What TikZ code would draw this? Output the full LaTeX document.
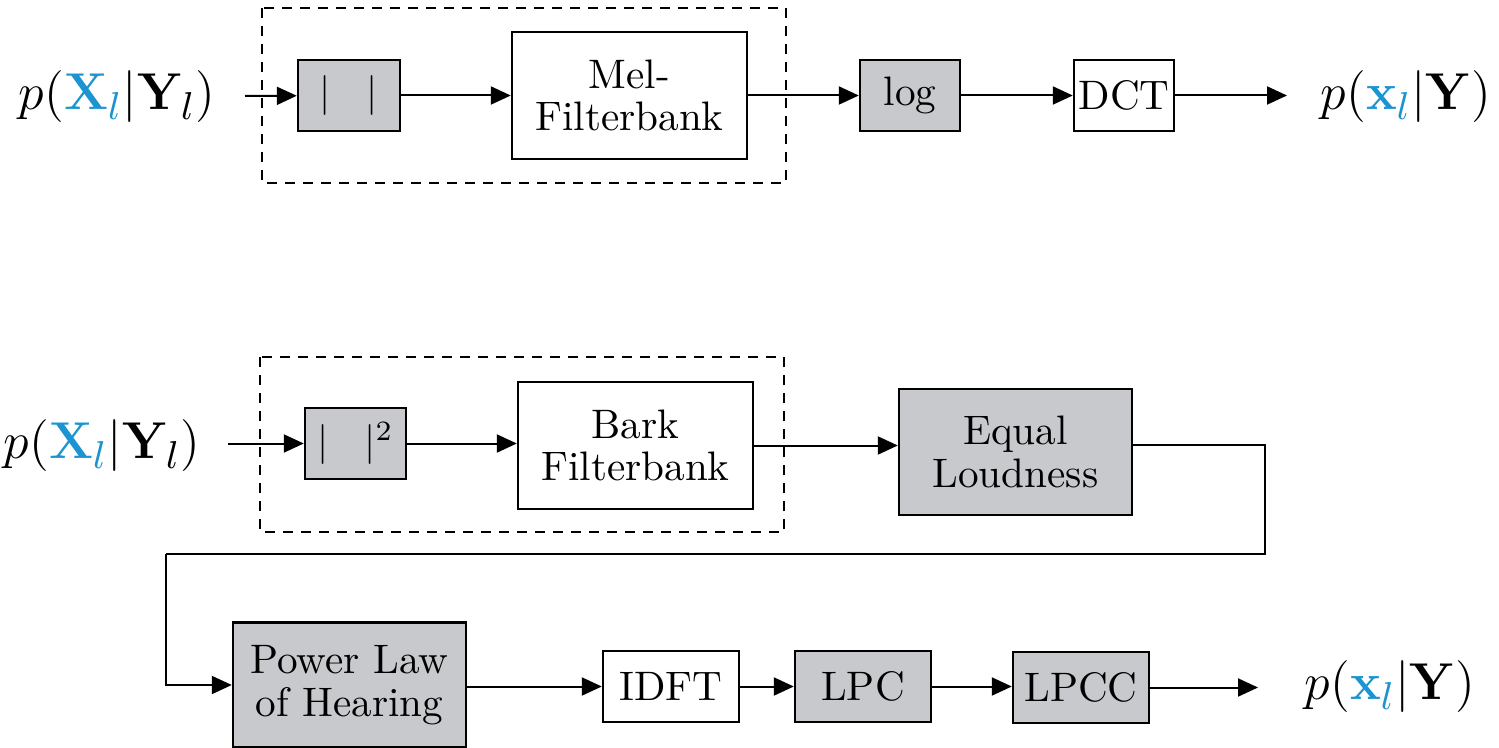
\documentclass[tikz,border=0pt]{standalone}
\usepackage{graphicx}
\usetikzlibrary{arrows.meta}
\definecolor{boxgray}{RGB}{199,201,205}
\definecolor{lblue}{RGB}{27,148,209}
\newcommand{\lblscale}[1]{\scalebox{1.08}{#1}}
\begin{document}
\begin{tikzpicture}[x=0.25pt,y=-0.25pt,
  box/.style={draw, line width=0.6pt, inner sep=0pt, align=center,
    font=\fontsize{10.3}{10.6}\selectfont},
  gbox/.style={box, fill=boxgray},
  wbox/.style={box, fill=white},
  conn/.style={-{Triangle[length=5pt,width=4.5pt]}, line width=0.5pt},
  dbox/.style={line width=0.5pt, dash pattern=on 2.5pt off 2pt},
  lbl/.style={inner sep=0pt, font=\fontsize{12.9}{15}\selectfont}
]
\useasboundingbox (0,0) rectangle (1499,748);
% ---------- top row ----------
\draw[dbox] (262,8) rectangle (786,183);
\node[lbl, anchor=west] (in1) at (18,97) {\lblscale{$p(\textcolor{lblue}{\mathbf{X}_l}|\mathbf{Y}_l)$}};
\coordinate (s1) at (245,96);
\node[gbox, minimum width=25.5pt, minimum height=17.75pt] (abs1) at (349,95.5) {$|\hspace{9pt}|$};
\node[wbox, minimum width=58.75pt, minimum height=31.75pt] (mel) at (629.5,95.5) {Mel-\\Filterbank};
\node[gbox, minimum width=25pt, minimum height=17.75pt] (log) at (910,95.5) {log};
\node[wbox, minimum width=25pt, minimum height=17.75pt] (dct) at (1124,95.5) {DCT};
\node[lbl, anchor=east] (out1) at (1492,97) {\lblscale{$p(\textcolor{lblue}{\mathbf{x}_l}|\mathbf{Y})$}};
\coordinate (e1) at (1287,95.5);
\draw[conn] (s1) -- (abs1);
\draw[conn] (abs1) -- (mel);
\draw[conn] (mel) -- (log);
\draw[conn] (log) -- (dct);
\draw[conn] (dct) -- (e1);
% ---------- bottom ----------
\draw[dbox] (260,357) rectangle (784,532);
\node[lbl, anchor=west] (in2) at (3,446) {\lblscale{$p(\textcolor{lblue}{\mathbf{X}_l}|\mathbf{Y}_l)$}};
\coordinate (s2) at (228,443.5);
\node[gbox, minimum width=25.25pt, minimum height=17.75pt] (sq) at (355.5,443.5) {$|\hspace{9pt}|^2$};
\node[wbox, minimum width=58.75pt, minimum height=31.75pt] (bark) at (635.5,445.5) {Bark\\Filterbank};
\node[gbox, minimum width=58.25pt, minimum height=31.5pt] (eq) at (1015.5,452) {Equal\\Loudness};
\node[gbox, minimum width=58.25pt, minimum height=31.25pt] (pow) at (349.5,685) {Power Law\\of Hearing};
\node[wbox, minimum width=34pt, minimum height=17.75pt] (idft) at (671,686.5) {IDFT};
\node[gbox, minimum width=34pt, minimum height=17.75pt] (lpc) at (863,686.5) {LPC};
\node[gbox, minimum width=34pt, minimum height=17.75pt] (lpcc) at (1081,687.5) {LPCC};
\node[lbl, anchor=east] (out2) at (1476,687) {\lblscale{$p(\textcolor{lblue}{\mathbf{x}_l}|\mathbf{Y})$}};
\coordinate (e2) at (1258,687.5);
\coordinate (c1) at (1265,445);
\coordinate (c2) at (166,554);
\draw[conn] (s2) -- (sq);
\draw[conn] (sq) -- (sq -| bark.west);
\draw[conn] (bark.east) -- (bark.east -| eq.west);
\draw[line width=0.5pt] (eq.east |- c1) -- (c1) |- (c2);
\draw[conn] (c2) |- (pow.west);
\draw[conn] (pow.east |- idft) -- (idft);
\draw[conn] (idft) -- (lpc);
\draw[conn] (lpc.east) -- (lpc.east -| lpcc.west);
\draw[conn] (lpcc) -- (e2);
\end{tikzpicture}
\end{document}
